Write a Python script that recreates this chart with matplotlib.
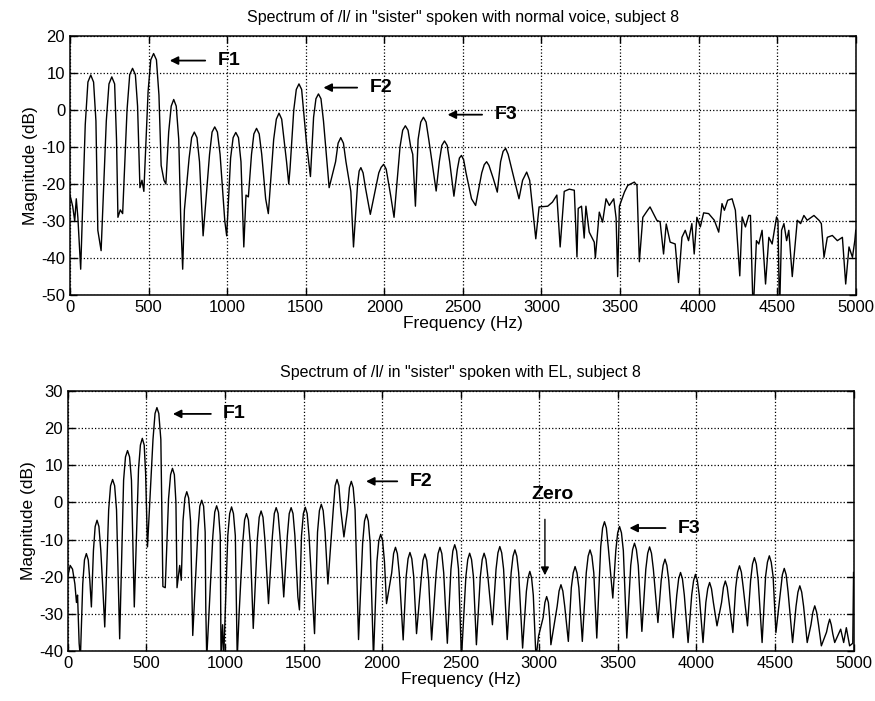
import matplotlib
matplotlib.use("Agg")
import matplotlib.pyplot as plt

plt.rcParams['font.family'] = ['Liberation Sans', 'DejaVu Sans']
plt.rcParams['axes.unicode_minus'] = False

# spectrum of /l/, normal voice: (Hz, dB)
normal_points = [
    (0, -23), (17, -26), (30, -30), (40, -24), (50, -29), (68, -43),
    (97, -4), (114, 7.5), (132, 9.4), (150, 7.5), (165, -3), (177, -32.5), (198, -38),
    (231, -3), (248, 7), (266, 8.9), (284, 7), (296, -8), (305, -29), (320, -27), (335, -28),
    (363, 0), (380, 9.5), (398, 11.2), (416, 9.5), (430, 1), (445, -21), (458, -19), (470, -22),
    (497, 5), (514, 13.5), (532, 15.2), (550, 13.5), (566, 4), (580, -15), (598, -19), (610, -20),
    (628, -6), (644, 1), (660, 2.8), (676, 1), (692, -8), (705, -30), (717, -43), (728, -27),
    (758, -13), (774, -7.5), (791, -6.0), (808, -7.5), (824, -14), (847, -34),
    (888, -12), (904, -6), (921, -4.6), (938, -6), (955, -12), (985, -30), (997, -34),
    (1022, -13), (1038, -7.5), (1055, -6.1), (1072, -7.5), (1088, -14), (1106, -37),
    (1120, -23), (1135, -23.5),
    (1155, -12), (1170, -6.5), (1187, -5.0), (1204, -6.5), (1220, -12), (1245, -24), (1262, -28),
    (1296, -8), (1313, -2.5), (1330, -0.9), (1347, -2.5), (1362, -8), (1378, -14), (1392, -20),
    (1400, -16),
    (1424, 0), (1440, 5.5), (1457, 7.0), (1474, 5.5), (1490, -2), (1505, -9), (1530, -18),
    (1550, -2), (1565, 3), (1581, 4.3), (1597, 3), (1613, -3), (1649, -21),
    (1690, -14), (1706, -9), (1723, -7.5), (1740, -9), (1756, -14), (1787, -22), (1804, -37),
    (1830, -20), (1840, -16.5), (1851, -15.6), (1865, -17), (1880, -21), (1911, -28.2),
    (1965, -17), (1980, -15.5), (1996, -14.7), (2012, -16), (2040, -23), (2062, -29),
    (2100, -10), (2117, -5.5), (2134, -4.3), (2151, -5.5), (2168, -10), (2181, -12), (2198, -26),
    (2215, -8), (2232, -3.3), (2249, -2.0), (2266, -3.3), (2283, -8), (2330, -21.9),
    (2350, -14), (2366, -9.6), (2383, -8.4), (2400, -9.6), (2416, -14), (2443, -23.3),
    (2465, -16), (2478, -13), (2491, -12.3), (2505, -13.5), (2520, -17), (2555, -24), (2581, -25.8),
    (2620, -17), (2636, -14.8), (2651, -14), (2666, -15), (2694, -18.6), (2719, -22.2),
    (2740, -14), (2756, -11.2), (2772, -10.4), (2788, -12), (2857, -24),
    (2880, -19), (2906, -16.8), (2925, -19), (2953, -30.3), (2964, -34.8),
    (2985, -26.2), (3040, -26), (3070, -24.9), (3098, -23), (3119, -37), (3145, -22),
    (3177, -21.4), (3209, -21.7), (3226, -39.7), (3234, -26.6), (3255, -26), (3272, -34.6),
    (3283, -26), (3304, -33), (3336, -35.7), (3343, -40), (3368, -27.6), (3389, -30.3),
    (3411, -24), (3432, -25.8), (3460, -24), (3475, -29.2), (3485, -45), (3496, -26),
    (3528, -22.2), (3549, -20.4), (3591, -19.5), (3608, -20.4), (3623, -41), (3645, -29),
    (3677, -27), (3691, -26.2), (3734, -29.8), (3755, -30.2), (3777, -38.9), (3794, -30.8),
    (3819, -35.7), (3851, -36.2), (3872, -46.6), (3894, -34.4), (3915, -32.5), (3936, -35.3),
    (3957, -30.7), (3972, -38.9), (3989, -29), (4011, -31.6), (4032, -27.8), (4064, -28),
    (4100, -29.8), (4128, -33), (4149, -25.3), (4164, -27.1), (4185, -24.4), (4213, -24),
    (4234, -27.1), (4262, -44.8), (4277, -28.9), (4298, -31.6), (4319, -28.5), (4330, -28.5),
    (4347, -55), (4368, -35.3), (4383, -36.2), (4404, -32.5), (4426, -47), (4447, -34.4),
    (4468, -36.2), (4496, -28.9), (4505, -29.8), (4515, -55), (4528, -32.5), (4543, -30.7),
    (4560, -35.3), (4574, -32.5), (4596, -45), (4628, -29.8), (4649, -30.7), (4670, -28.5),
    (4691, -29.8), (4734, -28.5), (4766, -29.8), (4781, -30.7), (4798, -39.8), (4819, -34.4),
    (4851, -33.9), (4883, -35.3), (4915, -34.4), (4936, -47), (4957, -37), (4979, -39.8),
    (4994, -35.3), (5000, -32.5),
]

# spectrum of /l/, electrolarynx (EL): (Hz, dB)
el_points = [
    (0, -20), (15, -17), (30, -18), (45, -22), (55, -27), (62, -25), (72, -38), (80, -42),
    (95, -22), (106, -15.5), (118, -13.8), (130, -15.5), (140, -21), (150, -28.2),
    (163, -13), (174, -6.5), (186, -4.8), (198, -6.5), (210, -13), (225, -25), (235, -33.6),
    (260, -2), (272, 4.5), (285, 6.2), (298, 4.5), (310, -2), (330, -36.8),
    (355, 6), (367, 12.3), (380, 14), (393, 12.3), (405, 6), (423, -28.2),
    (450, 9), (462, 15.5), (474, 17.3), (486, 15.5), (495, 8), (507, -12),
    (542, 17), (555, 24), (567, 25.6), (579, 24), (592, 17), (605, -22.7), (620, -23),
    (641, 1), (654, 7.5), (666, 9.2), (678, 7.5), (688, 0), (695, -23), (712, -17), (722, -21),
    (733, -5), (745, 1.2), (757, 2.9), (769, 1.2), (781, -5), (795, -35.9),
    (828, -7.5), (840, -1), (852, 0.6), (864, -1), (874, -8), (878, -28.6), (884, -42),
    (923, -9), (935, -2.6), (947, -0.9), (959, -2.6), (970, -9), (975, -42), (985, -33), (992, -42),
    (1018, -9), (1030, -3), (1042, -1.2), (1054, -3), (1066, -9), (1078, -42), (1090, -30),
    (1113, -11), (1125, -4.7), (1137, -3), (1149, -4.7), (1161, -11), (1180, -34),
    (1206, -10), (1218, -4), (1230, -2.3), (1242, -4), (1254, -10), (1277, -27.3),
    (1302, -9), (1314, -3), (1326, -1.4), (1338, -3), (1350, -9), (1374, -25.5),
    (1397, -9), (1409, -3), (1421, -1.4), (1433, -3), (1445, -9), (1464, -25.5), (1474, -29),
    (1487, -9), (1499, -3), (1511, -1.3), (1523, -3), (1535, -9), (1570, -35.4),
    (1589, -8), (1601, -2.2), (1613, -0.5), (1625, -2.2), (1637, -8), (1655, -22),
    (1689, -2), (1701, 4.5), (1713, 6.2), (1725, 4.5), (1737, -2), (1757, -9.3),
    (1780, -2), (1792, 4), (1804, 5.7), (1816, 4), (1828, -2), (1850, -37),
    (1876, -11), (1888, -5), (1900, -3.2), (1912, -5), (1924, -11), (1945, -42),
    (1967, -16), (1979, -10.3), (1991, -8.6), (2003, -10.3), (2015, -16), (2028, -27.3),
    (2061, -19), (2073, -13.8), (2085, -12.1), (2097, -13.8), (2109, -19), (2134, -37.1),
    (2153, -20), (2165, -15.2), (2177, -13.5), (2189, -15.2), (2201, -20), (2219, -35.4),
    (2248, -21), (2260, -15.6), (2272, -13.9), (2284, -15.6), (2296, -21), (2315, -37.1),
    (2344, -19), (2356, -13.8), (2368, -12.1), (2380, -13.8), (2392, -19), (2415, -38),
    (2438, -18), (2450, -13.1), (2462, -11.4), (2474, -13.1), (2486, -18), (2505, -42),
    (2533, -20), (2545, -15.4), (2557, -13.7), (2569, -15.4), (2581, -20), (2600, -38.4),
    (2625, -20), (2637, -15.4), (2649, -13.7), (2661, -15.4), (2673, -20), (2702, -33),
    (2725, -18), (2737, -13.6), (2749, -11.9), (2761, -13.6), (2773, -18), (2796, -37),
    (2821, -19), (2833, -14.5), (2845, -12.8), (2857, -14.5), (2869, -19), (2894, -39.3),
    (2918, -24), (2929, -20.3), (2940, -18.6), (2951, -20.3), (2962, -25), (2979, -42), (2996, -36),
    (3025, -31), (3036, -27), (3047, -25.4), (3058, -27), (3066, -31), (3074, -38.4),
    (3114, -28), (3126, -23.9), (3138, -22.2), (3150, -23.9), (3162, -28), (3185, -37.5),
    (3204, -23), (3216, -19), (3228, -17.3), (3240, -19), (3252, -23), (3274, -37.5),
    (3299, -19), (3311, -14.5), (3323, -12.8), (3335, -14.5), (3347, -19), (3366, -36.6),
    (3391, -12), (3403, -6.9), (3415, -5.2), (3427, -6.9), (3439, -12), (3468, -25.8),
    (3487, -13), (3499, -8.2), (3511, -6.5), (3523, -8.2), (3535, -13), (3557, -36.6),
    (3582, -17), (3594, -12.7), (3606, -11), (3618, -12.7), (3630, -17), (3653, -34.8),
    (3678, -18), (3690, -13.7), (3702, -12), (3714, -13.7), (3726, -18), (3755, -32.4),
    (3776, -21), (3788, -17), (3800, -15.3), (3812, -17), (3824, -21), (3852, -36.5),
    (3875, -25), (3887, -20.6), (3899, -18.9), (3911, -20.6), (3923, -25), (3947, -37.8),
    (3970, -25), (3982, -21.1), (3994, -19.4), (4006, -21.1), (4018, -25), (4042, -37.8),
    (4060, -27), (4072, -23.3), (4084, -21.6), (4096, -23.3), (4108, -27), (4131, -33.3),
    (4160, -27), (4172, -22.9), (4184, -21.2), (4196, -22.9), (4208, -27), (4232, -35.1),
    (4250, -23), (4262, -18.8), (4274, -17.1), (4286, -18.8), (4298, -23), (4325, -33.3),
    (4345, -21), (4357, -16.6), (4369, -14.9), (4381, -16.6), (4393, -21), (4418, -37.8),
    (4440, -20), (4452, -16.1), (4464, -14.4), (4476, -16.1), (4488, -20), (4506, -35.1),
    (4535, -24), (4547, -19.5), (4559, -17.8), (4571, -19.5), (4583, -24), (4612, -37.8),
    (4634, -28), (4646, -24.2), (4658, -22.5), (4670, -24.2), (4682, -28), (4705, -37.8),
    (4729, -33), (4741, -29.6), (4753, -27.9), (4765, -29.6), (4777, -33), (4795, -38.7),
    (4828, -35), (4838, -33), (4848, -31.5), (4858, -33), (4868, -35.5), (4880, -37.8),
    (4918, -34.2), (4937, -37.8), (4954, -33.8), (4975, -38.7), (4995, -38), (5000, -18.9),
]

xticks = [0, 500, 1000, 1500, 2000, 2500, 3000, 3500, 4000, 4500, 5000]

fig = plt.figure(figsize=(8.75, 7.01), dpi=100)
ax1 = fig.add_axes([0.080, 0.579, 0.898, 0.370])
ax2 = fig.add_axes([0.0775, 0.0718, 0.898, 0.370])


def style(ax, ylim, title):
    ax.set_xlim(0, 5000)
    ax.set_ylim(*ylim)
    ax.set_xticks(xticks)
    ax.set_yticks(range(ylim[0], ylim[1] + 1, 10))
    ax.grid(True, linestyle=':', color='black', linewidth=0.9)
    ax.tick_params(direction='in', length=5, labelsize=12, width=1, top=True, right=True,
                   labeltop=False, labelright=False)
    for s in ax.spines.values():
        s.set_linewidth(1.1)
    ax.set_xlabel('Frequency (Hz)', fontsize=12.5, labelpad=1)
    ax.set_ylabel('Magnitude (dB)', fontsize=12.5, labelpad=2)
    ax.set_title(title, fontsize=11.5, pad=10)


def label(ax, text, head, tail):
    ax.annotate('', xy=head, xytext=tail,
                arrowprops=dict(arrowstyle='-|>', color='black', lw=1.3, mutation_scale=12))
    ax.text(tail[0] + 60, tail[1], text, fontsize=14, fontweight='bold', va='center', ha='left')


nf, nd = zip(*normal_points)
ax1.plot(nf, nd, color='black', linewidth=1.0)
style(ax1, (-50, 20), 'Spectrum of /l/ in "sister" spoken with normal voice, subject 8')
label(ax1, 'F1', (617, 13.3), (878, 13.3))
label(ax1, 'F2', (1595, 6.0), (1845, 6.0))
label(ax1, 'F3', (2385, -1.3), (2640, -1.3))

ef, ed = zip(*el_points)
ax2.plot(ef, ed, color='black', linewidth=1.0)
style(ax2, (-40, 30), 'Spectrum of /l/ in "sister" spoken with EL, subject 8')
label(ax2, 'F1', (651, 23.9), (928, 23.9))
label(ax2, 'F2', (1880, 5.7), (2114, 5.7))
label(ax2, 'F3', (3556, -6.9), (3821, -6.9))
ax2.annotate('', xy=(3036, -20.4), xytext=(3036, -3.8),
             arrowprops=dict(arrowstyle='-|>', color='black', lw=1.0, mutation_scale=12))
ax2.text(3084, 2.1, 'Zero', fontsize=14, fontweight='bold', ha='center', va='center')

fig.savefig('out.png', dpi=100)
